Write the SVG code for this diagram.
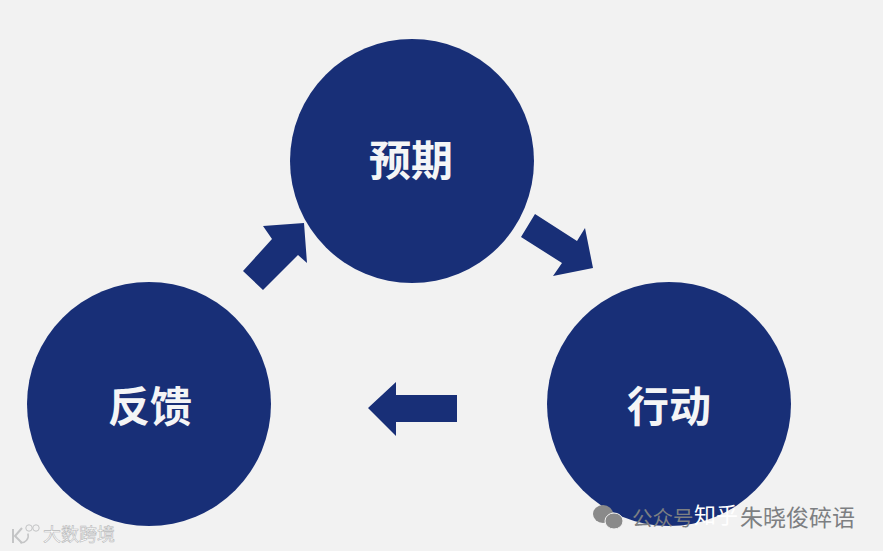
<svg xmlns="http://www.w3.org/2000/svg" width="883" height="551" viewBox="0 0 883 551">
  <defs>
    <style>
      .node { fill: #182f77; }
      .arrow { fill: #182f77; }
      .label { font-family: "Noto Sans CJK SC", sans-serif; font-size: 42px; font-weight: 700; fill: #f4f5f6; text-anchor: middle; }
      .wm { font-family: "Noto Sans CJK SC", sans-serif; font-size: 23px; fill: #7d7f82; }
      .wmw { font-family: "Noto Sans CJK SC", sans-serif; font-size: 22px; fill: #ffffff; }
      .logo { font-family: "Noto Sans CJK SC", sans-serif; font-size: 18px; fill: #ffffff; stroke: #b8b9ba; stroke-width: .6px; }
    </style>
  </defs>
  <rect width="883" height="551" fill="#f2f2f2"/>
  <g id="connectors">
    <polygon class="arrow" points="243,271 272,239 263,226 304,223 307,263 298,255 263,290"/>
    <polygon class="arrow" points="535,214 577,241 585,228 593,268 553,276 562,263 521,237"/>
    <polygon class="arrow" points="368,408 396,382 396,395 457,395 457,422 396,422 396,436"/>
  </g>
  <g id="node-expect">
    <circle class="node" cx="412" cy="161" r="122"/>
    <text class="label" x="411" y="176">预期</text>
  </g>
  <g id="node-feedback">
    <circle class="node" cx="149" cy="404" r="122"/>
    <text class="label" x="150" y="422">反馈</text>
  </g>
  <g id="node-action">
    <circle class="node" cx="669" cy="404" r="122"/>
    <text class="label" x="669" y="422">行动</text>
  </g>
  <g id="watermark-right">
    <ellipse cx="603" cy="514" rx="10" ry="9" fill="#8a8a8a"/>
    <ellipse cx="614" cy="521" rx="9" ry="8" fill="#8a8a8a" stroke="#f2f2f2"/>
    <text class="wm" x="632" y="526" style="font-size:20.5px">公众号</text>
    <text class="wmw" x="694" y="523">知乎</text>
    <text class="wm" x="740" y="526">朱晓俊碎语</text>
  </g>
  <g id="watermark-left">
    <path d="M13 529V543M22 528L15 536L22 543" fill="none" stroke="#c4c5c6" stroke-width="2"/>
    <path d="M24 532A7 7 0 0 1 24 544" fill="none" stroke="#c4c5c6" stroke-width="1.5" transform="rotate(40 24 538)"/>
    <circle cx="29" cy="528" r="3.2" fill="none" stroke="#c4c5c6"/>
    <circle cx="36" cy="528" r="3.2" fill="none" stroke="#c4c5c6"/>
    <text class="logo" x="43" y="541">大数跨境</text>
  </g>
</svg>
